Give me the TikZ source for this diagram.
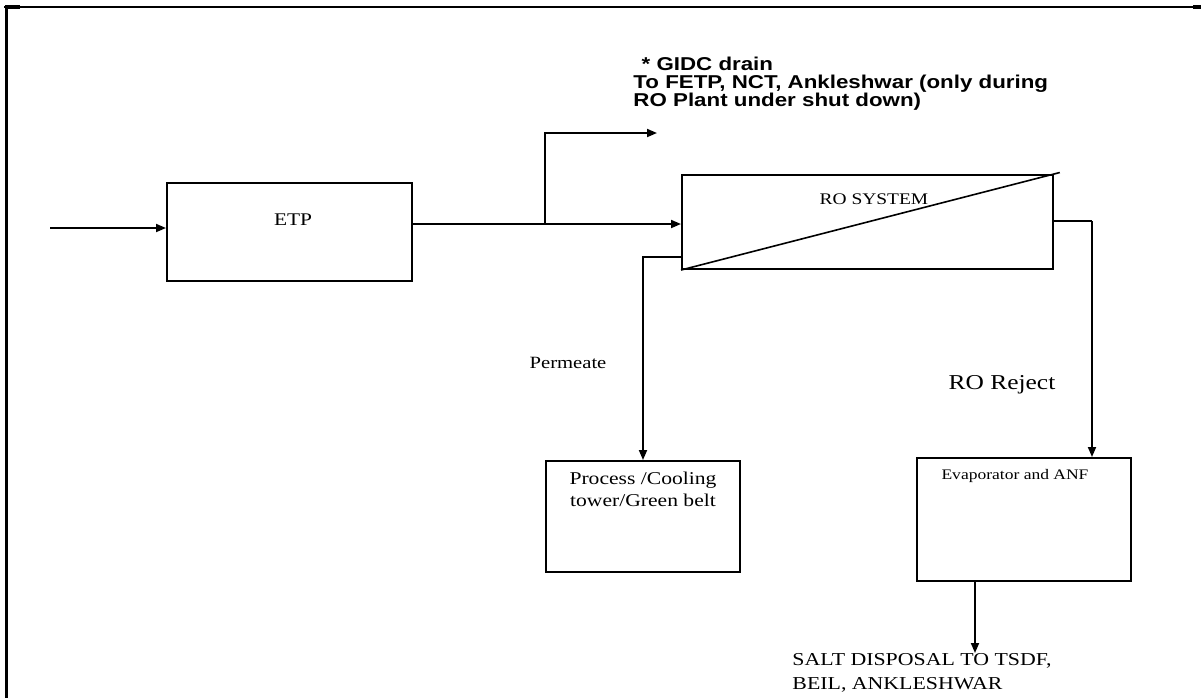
\documentclass[tikz,border=0pt]{standalone}
\usepackage{fontspec}
\setmainfont{Liberation Serif}
\newfontfamily\arialfont{Liberation Sans}
\newcommand\tightlines{\lineskiplimit=-20pt\relax}
\usetikzlibrary{arrows.meta, positioning}

\begin{document}
\begin{tikzpicture}[x=0.5pt, y=-0.5pt,
    unitbox/.style={draw, line width=1pt, inner sep=0pt},
    flow/.style={line width=0.9pt, -{Triangle[length=5pt, width=4pt]}},
    pipe/.style={line width=0.9pt},
    lbl/.style={inner sep=0pt, xscale=1.2}]
  \useasboundingbox (0,0) rectangle (1201,698);
  % frame
  \draw[line width=1pt] (4,7) -- (1200,7);
  \draw[line width=1.5pt] (6,7) -- (6,698);
  \draw[line width=2pt] (5,7) -- (20,7);
  \draw[line width=2pt] (1193,7) -- (1201,7);

  % boxes
  \node[unitbox, minimum width=122.5pt, minimum height=49pt] (etp) at (289.5,232) {};
  \node[unitbox, minimum width=185.5pt, minimum height=47pt] (ro) at (867.5,222) {};
  \node[unitbox, minimum width=97pt, minimum height=55.5pt] (proc) at (643,516.5) {};
  \node[unitbox, minimum width=107pt, minimum height=61.5pt] (evap) at (1024,519.5) {};
  \draw[line width=0.8pt, shorten >=-3pt] (ro.south west) -- (ro.north east);

  % texts
  \node[lbl, font=\fontsize{8.9}{10}\selectfont] (etptxt) at (293,220) {ETP};
  \node[lbl, font=\fontsize{8.1}{10}\selectfont] (rotxt) at (874,199) {RO SYSTEM};
  \node[lbl, font=\fontsize{8.6}{10}\selectfont] (perm) at (568,363) {Permeate};
  \node[lbl, font=\fontsize{10.6}{12}\selectfont] (rej) at (1002,385) {RO Reject};
  \node[lbl, font=\fontsize{9}{11}\selectfont, align=center] (proctxt) at (643,489)
    {Process /Cooling\\tower/Green belt};
  \node[lbl, font=\fontsize{7.3}{10}\selectfont] (evaptxt) at (1015,476) {Evaporator and ANF};
  \node[lbl, font=\fontsize{9.1}{12}\selectfont, align=left, anchor=north west] (salt) at (792,653)
    {SALT DISPOSAL TO TSDF,\\BEIL, ANKLESHWAR};
  \node[lbl, font=\arialfont\bfseries\fontsize{9.3}{9}\selectfont\tightlines,
        align=left, anchor=north west] (note) at (633,57)
    {\hspace*{3.4pt}* GIDC drain\\To FETP, NCT, Ankleshwar (only during\\RO Plant under shut down)};

  % flow lines
  \coordinate (in) at (50,228);
  \coordinate (j) at (545,224);
  \coordinate (drain) at (657,133);
  \coordinate (pm) at (683,257);
  \coordinate (rj) at (1092,221);
  \coordinate (sd) at (975,0);
  \draw[flow] (in) -- (in -| etp.west);
  \draw[pipe] (etp.east |- j) -- (j);
  \draw[flow] (j) -- (j -| ro.west);
  \draw[flow] (j) |- (drain);
  \draw[flow] (ro.west |- pm) -| (proc.north);
  \draw[pipe] (ro.east |- rj) -- (rj);
  \draw[flow] (rj) -- (rj |- evap.north);
  \draw[flow] (evap.south -| sd) -- (sd |- salt.north);
\end{tikzpicture}
\end{document}
